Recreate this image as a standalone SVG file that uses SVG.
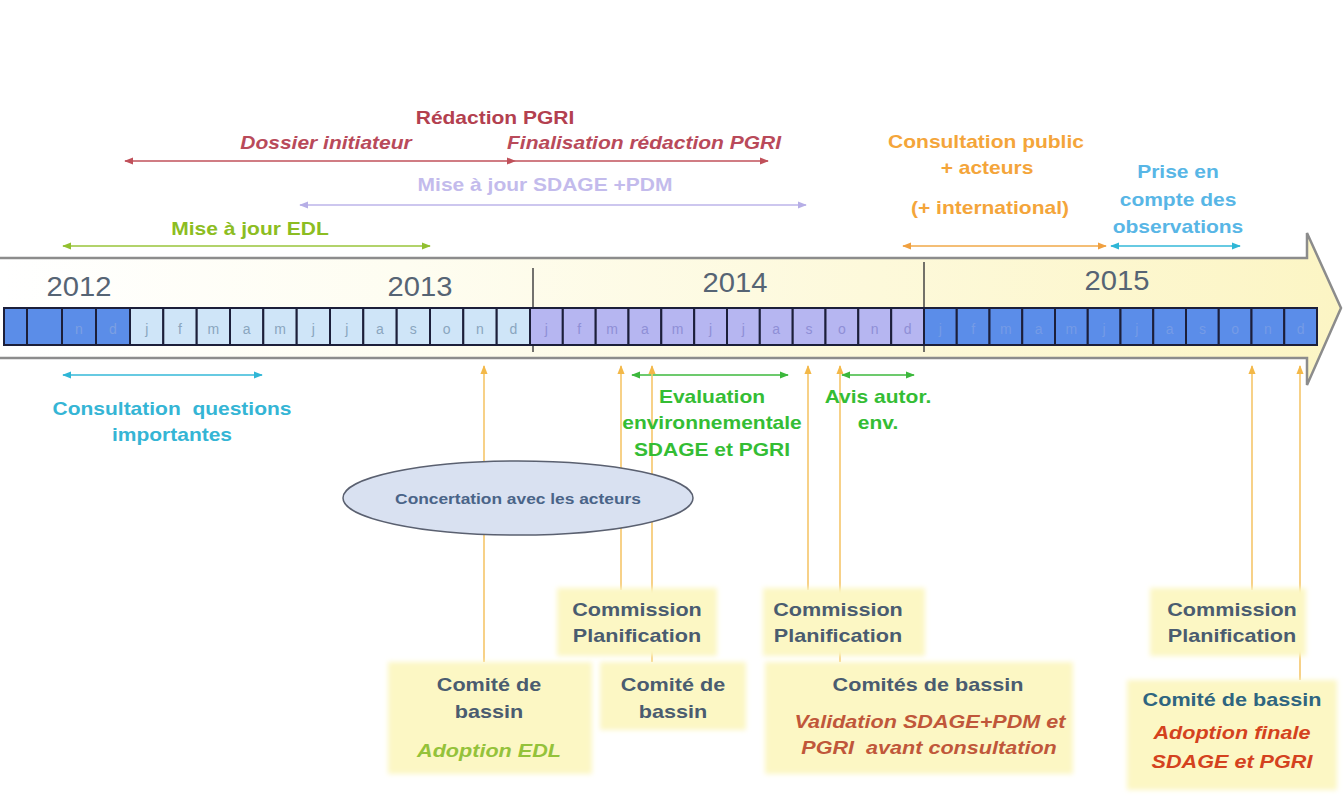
<svg xmlns="http://www.w3.org/2000/svg" width="1343" height="808" viewBox="0 0 1343 808">
<defs>
<style>
.L{font-family:"Liberation Sans",Arial,sans-serif;font-weight:bold;font-size:17.5px;text-anchor:middle}
.B{font-family:"Liberation Sans",Arial,sans-serif;font-weight:bold;font-size:18px;text-anchor:middle}
.i{font-style:italic}
.Y{font-family:"Liberation Sans",Arial,sans-serif;font-size:27px;text-anchor:middle;fill:#566474}
.M{font-family:"Liberation Sans",Arial,sans-serif;font-size:14px;text-anchor:middle}
.c12{fill:#5b8de8;stroke:#1c1f3a;stroke-width:2}
.c13{fill:#cfe5f8;stroke:#1c1f3a;stroke-width:2}
.c14{fill:#b6b6f1;stroke:#1c1f3a;stroke-width:2}
.c15{fill:#5b8de9;stroke:#1c1f3a;stroke-width:2}
.box{fill:#fcf7c4}
.vl{stroke:#f5c66a;stroke-width:1.6;fill:none;marker-end:url(#mU)}
.sl{stroke-width:1.6;fill:none}
</style>
<linearGradient id="gArrow" x1="0" y1="0" x2="1343" y2="0" gradientUnits="userSpaceOnUse">
<stop offset="0" stop-color="#ffffff"/>
<stop offset="0.3" stop-color="#fefdf1"/>
<stop offset="1" stop-color="#fcf5c4"/>
</linearGradient>
<filter id="soft" x="-10%" y="-10%" width="120%" height="120%"><feGaussianBlur stdDeviation="2.5"/></filter>
<marker id="mR" viewBox="0 0 10 10" refX="9" refY="5" markerWidth="9" markerHeight="9" markerUnits="userSpaceOnUse" orient="auto-start-reverse"><path d="M0,1 L10,5 L0,9 z" fill="#c0505a"/></marker>
<marker id="mV" viewBox="0 0 10 10" refX="9" refY="5" markerWidth="9" markerHeight="9" markerUnits="userSpaceOnUse" orient="auto-start-reverse"><path d="M0,1 L10,5 L0,9 z" fill="#b6aee6"/></marker>
<marker id="mE" viewBox="0 0 10 10" refX="9" refY="5" markerWidth="9" markerHeight="9" markerUnits="userSpaceOnUse" orient="auto-start-reverse"><path d="M0,1 L10,5 L0,9 z" fill="#92c030"/></marker>
<marker id="mO" viewBox="0 0 10 10" refX="9" refY="5" markerWidth="9" markerHeight="9" markerUnits="userSpaceOnUse" orient="auto-start-reverse"><path d="M0,1 L10,5 L0,9 z" fill="#f0a040"/></marker>
<marker id="mC" viewBox="0 0 10 10" refX="9" refY="5" markerWidth="9" markerHeight="9" markerUnits="userSpaceOnUse" orient="auto-start-reverse"><path d="M0,1 L10,5 L0,9 z" fill="#2fb6d6"/></marker>
<marker id="mG" viewBox="0 0 10 10" refX="9" refY="5" markerWidth="9" markerHeight="9" markerUnits="userSpaceOnUse" orient="auto-start-reverse"><path d="M0,1 L10,5 L0,9 z" fill="#3cb83c"/></marker>
<marker id="mU" viewBox="0 0 10 10" refX="9" refY="5" markerWidth="9" markerHeight="9" markerUnits="userSpaceOnUse" orient="auto"><path d="M0,1 L10,5 L0,9 z" fill="#f3b848"/></marker>
</defs>
<rect width="1343" height="808" fill="#ffffff"/>

<g id="timeline-arrow">
<path d="M-4,258 L1307,258 L1307,233 L1341,308 L1307,385 L1307,358 L-4,358 Z" fill="url(#gArrow)" stroke="#8c8c8c" stroke-width="2.5"/>
<line x1="533" y1="268" x2="533" y2="352" stroke="#444" stroke-width="1.5"/>
<line x1="924" y1="262" x2="924" y2="352" stroke="#444" stroke-width="1.5"/>
<text class="Y" transform="translate(79 296) scale(1.08 1)">2012</text>
<text class="Y" transform="translate(420 296) scale(1.08 1)">2013</text>
<text class="Y" transform="translate(735 292) scale(1.08 1)">2014</text>
<text class="Y" transform="translate(1117 290) scale(1.08 1)">2015</text>
</g>

<g id="months-2012">
<rect class="c12" x="4" y="308" width="23" height="37"/>
<rect class="c12" x="27" y="308" width="35" height="37"/>
<rect class="c12" x="62" y="308" width="34" height="37"/>
<rect class="c12" x="96" y="308" width="34" height="37"/>
<g class="M" fill="#7c9fe2"><text x="79" y="334">n</text><text x="113" y="334">d</text></g>
</g>

<g id="months-2013">
<rect class="c13" x="130" y="308" width="33.3" height="37"/>
<rect class="c13" x="163.3" y="308" width="33.4" height="37"/>
<rect class="c13" x="196.7" y="308" width="33.3" height="37"/>
<rect class="c13" x="230" y="308" width="33.3" height="37"/>
<rect class="c13" x="263.3" y="308" width="33.4" height="37"/>
<rect class="c13" x="296.7" y="308" width="33.3" height="37"/>
<rect class="c13" x="330" y="308" width="33.3" height="37"/>
<rect class="c13" x="363.3" y="308" width="33.4" height="37"/>
<rect class="c13" x="396.7" y="308" width="33.3" height="37"/>
<rect class="c13" x="430" y="308" width="33.3" height="37"/>
<rect class="c13" x="463.3" y="308" width="33.4" height="37"/>
<rect class="c13" x="496.7" y="308" width="33.3" height="37"/>
<g class="M" fill="#8aa6bf">
<text x="146.7" y="334">j</text><text x="180" y="334">f</text><text x="213.3" y="334">m</text><text x="246.7" y="334">a</text><text x="280" y="334">m</text><text x="313.3" y="334">j</text><text x="346.7" y="334">j</text><text x="380" y="334">a</text><text x="413.3" y="334">s</text><text x="446.7" y="334">o</text><text x="480" y="334">n</text><text x="513.3" y="334">d</text>
</g>
</g>

<g id="months-2014">
<rect class="c14" x="530" y="308" width="32.8" height="37"/>
<rect class="c14" x="562.8" y="308" width="32.9" height="37"/>
<rect class="c14" x="595.7" y="308" width="32.8" height="37"/>
<rect class="c14" x="628.5" y="308" width="32.8" height="37"/>
<rect class="c14" x="661.3" y="308" width="32.9" height="37"/>
<rect class="c14" x="694.2" y="308" width="32.8" height="37"/>
<rect class="c14" x="727" y="308" width="32.8" height="37"/>
<rect class="c14" x="759.8" y="308" width="32.9" height="37"/>
<rect class="c14" x="792.7" y="308" width="32.8" height="37"/>
<rect class="c14" x="825.5" y="308" width="32.8" height="37"/>
<rect class="c14" x="858.3" y="308" width="32.9" height="37"/>
<rect class="c14" x="891.2" y="308" width="32.8" height="37"/>
<g class="M" fill="#8f8fd6">
<text x="546.4" y="334">j</text><text x="579.2" y="334">f</text><text x="612.1" y="334">m</text><text x="644.9" y="334">a</text><text x="677.7" y="334">m</text><text x="710.6" y="334">j</text><text x="743.4" y="334">j</text><text x="776.2" y="334">a</text><text x="809.1" y="334">s</text><text x="841.9" y="334">o</text><text x="874.7" y="334">n</text><text x="907.6" y="334">d</text>
</g>
</g>

<g id="months-2015">
<rect class="c15" x="924" y="308" width="32.75" height="37"/>
<rect class="c15" x="956.75" y="308" width="32.75" height="37"/>
<rect class="c15" x="989.5" y="308" width="32.75" height="37"/>
<rect class="c15" x="1022.25" y="308" width="32.75" height="37"/>
<rect class="c15" x="1055" y="308" width="32.75" height="37"/>
<rect class="c15" x="1087.75" y="308" width="32.75" height="37"/>
<rect class="c15" x="1120.5" y="308" width="32.75" height="37"/>
<rect class="c15" x="1153.25" y="308" width="32.75" height="37"/>
<rect class="c15" x="1186" y="308" width="32.75" height="37"/>
<rect class="c15" x="1218.75" y="308" width="32.75" height="37"/>
<rect class="c15" x="1251.5" y="308" width="32.75" height="37"/>
<rect class="c15" x="1284.25" y="308" width="32.75" height="37"/>
<g class="M" fill="#759be6">
<text x="940.4" y="334">j</text><text x="973.1" y="334">f</text><text x="1005.9" y="334">m</text><text x="1038.6" y="334">a</text><text x="1071.4" y="334">m</text><text x="1104.1" y="334">j</text><text x="1136.9" y="334">j</text><text x="1169.6" y="334">a</text><text x="1202.4" y="334">s</text><text x="1235.1" y="334">o</text><text x="1267.9" y="334">n</text><text x="1300.6" y="334">d</text>
</g>
</g>

<g id="connectors">
<path class="sl" d="M125,161 L515,161 L768,161" stroke="#c0505a" marker-start="url(#mR)" marker-mid="url(#mR)" marker-end="url(#mR)"/>
<line class="sl" x1="300" y1="205" x2="806" y2="205" stroke="#bdb5ea" marker-start="url(#mV)" marker-end="url(#mV)"/>
<line class="sl" x1="63" y1="246" x2="430" y2="246" stroke="#98c43a" marker-start="url(#mE)" marker-end="url(#mE)"/>
<line class="sl" x1="903" y1="246" x2="1106" y2="246" stroke="#f0a848" marker-start="url(#mO)" marker-end="url(#mO)"/>
<line class="sl" x1="1111" y1="246" x2="1240" y2="246" stroke="#35b8d8" marker-start="url(#mC)" marker-end="url(#mC)"/>
<line class="sl" x1="63" y1="375" x2="262" y2="375" stroke="#35b8d8" marker-start="url(#mC)" marker-end="url(#mC)"/>
<line class="sl" x1="632" y1="375" x2="788" y2="375" stroke="#3cb83c" marker-start="url(#mG)" marker-end="url(#mG)"/>
<line class="sl" x1="842" y1="375" x2="914" y2="375" stroke="#3cb83c" marker-start="url(#mG)" marker-end="url(#mG)"/>
<line class="vl" x1="484" y1="662" x2="484" y2="366"/>
<line class="vl" x1="621" y1="590" x2="621" y2="366"/>
<line class="vl" x1="652" y1="662" x2="652" y2="366"/>
<line class="vl" x1="808" y1="590" x2="808" y2="366"/>
<line class="vl" x1="840" y1="662" x2="840" y2="366"/>
<line class="vl" x1="1252" y1="590" x2="1252" y2="366"/>
<line class="vl" x1="1300" y1="680" x2="1300" y2="366"/>
</g>

<g id="labels-top">
<text class="L" transform="translate(495 124) scale(1.2 1)" fill="#b3404f">Rédaction PGRI</text>
<text class="L i" transform="translate(326 149) scale(1.2 1)" fill="#b94a5a">Dossier initiateur</text>
<text class="L i" transform="translate(644 149) scale(1.2 1)" fill="#b94a5a">Finalisation rédaction PGRI</text>
<text class="L" transform="translate(545 191) scale(1.2 1)" fill="#c3bbec">Mise à jour SDAGE +PDM</text>
<text class="L" transform="translate(250 235) scale(1.2 1)" fill="#8cbd22">Mise à jour EDL</text>
<text class="L" transform="translate(986 148) scale(1.2 1)" fill="#f4a53a">Consultation public</text>
<text class="L" transform="translate(987 174) scale(1.2 1)" fill="#f4a53a">+ acteurs</text>
<text class="L" transform="translate(990 214) scale(1.2 1)" fill="#f4a53a">(+ international)</text>
<text class="L" transform="translate(1178 178) scale(1.2 1)" fill="#58b6e6">Prise en</text>
<text class="L" transform="translate(1178 206) scale(1.2 1)" fill="#58b6e6">compte des</text>
<text class="L" transform="translate(1178 233) scale(1.2 1)" fill="#58b6e6">observations</text>
</g>

<g id="labels-below">
<text class="L" transform="translate(172 415) scale(1.2 1)" fill="#35b5d5">Consultation&#160; questions</text>
<text class="L" transform="translate(172 441) scale(1.2 1)" fill="#35b5d5">importantes</text>
<text class="L" transform="translate(712 403) scale(1.2 1)" fill="#34bd34">Evaluation</text>
<text class="L" transform="translate(712 429) scale(1.2 1)" fill="#34bd34">environnementale</text>
<text class="L" transform="translate(712 456) scale(1.2 1)" fill="#34bd34">SDAGE et PGRI</text>
<text class="L" transform="translate(878 403) scale(1.2 1)" fill="#34bd34">Avis autor.</text>
<text class="L" transform="translate(878 429) scale(1.2 1)" fill="#34bd34">env.</text>
</g>

<g id="concertation">
<ellipse cx="518" cy="498" rx="175" ry="37" fill="#d9e1f1" stroke="#5a6070" stroke-width="1.5"/>
<text class="L" transform="translate(518 504) scale(1.12 1)" style="font-size:15.5px" fill="#4a6488">Concertation avec les acteurs</text>
</g>

<g id="commission-1">
<rect class="box" x="557" y="588" width="160" height="68" filter="url(#soft)"/>
<text class="B" transform="translate(637 616) scale(1.2 1)" fill="#4a5c70">Commission</text>
<text class="B" transform="translate(637 642) scale(1.2 1)" fill="#4a5c70">Planification</text>
</g>

<g id="comite-1">
<rect class="box" x="388" y="662" width="204" height="112" filter="url(#soft)"/>
<text class="B" transform="translate(489 691) scale(1.2 1)" fill="#4a5c70">Comité de</text>
<text class="B" transform="translate(489 718) scale(1.2 1)" fill="#4a5c70">bassin</text>
<text class="B i" transform="translate(489 757) scale(1.2 1)" fill="#94c23a">Adoption EDL</text>
</g>

<g id="comite-2">
<rect class="box" x="600" y="662" width="146" height="68" filter="url(#soft)"/>
<text class="B" transform="translate(673 691) scale(1.2 1)" fill="#4a5c70">Comité de</text>
<text class="B" transform="translate(673 718) scale(1.2 1)" fill="#4a5c70">bassin</text>
</g>

<g id="commission-2">
<rect class="box" x="763" y="588" width="162" height="68" filter="url(#soft)"/>
<text class="B" transform="translate(838 616) scale(1.2 1)" fill="#4a5c70">Commission</text>
<text class="B" transform="translate(838 642) scale(1.2 1)" fill="#4a5c70">Planification</text>
</g>

<g id="comites-validation">
<rect class="box" x="765" y="662" width="308" height="112" filter="url(#soft)"/>
<text class="B" transform="translate(928 691) scale(1.2 1)" fill="#4a5c70">Comités de bassin</text>
<text class="B i" transform="translate(930 728) scale(1.2 1)" fill="#c0573a">Validation SDAGE+PDM et</text>
<text class="B i" transform="translate(929 754) scale(1.2 1)" fill="#c0573a">PGRI&#160; avant consultation</text>
</g>

<g id="commission-3">
<rect class="box" x="1150" y="588" width="156" height="68" filter="url(#soft)"/>
<text class="B" transform="translate(1232 616) scale(1.2 1)" fill="#4a5c70">Commission</text>
<text class="B" transform="translate(1232 642) scale(1.2 1)" fill="#4a5c70">Planification</text>
</g>

<g id="comite-final">
<rect class="box" x="1127" y="680" width="210" height="110" filter="url(#soft)"/>
<text class="B" transform="translate(1232 706) scale(1.2 1)" fill="#2f6580">Comité de bassin</text>
<text class="B i" transform="translate(1232 739) scale(1.2 1)" fill="#d4421e">Adoption finale</text>
<text class="B i" transform="translate(1232 768) scale(1.2 1)" fill="#d4421e">SDAGE et PGRI</text>
</g>
</svg>
